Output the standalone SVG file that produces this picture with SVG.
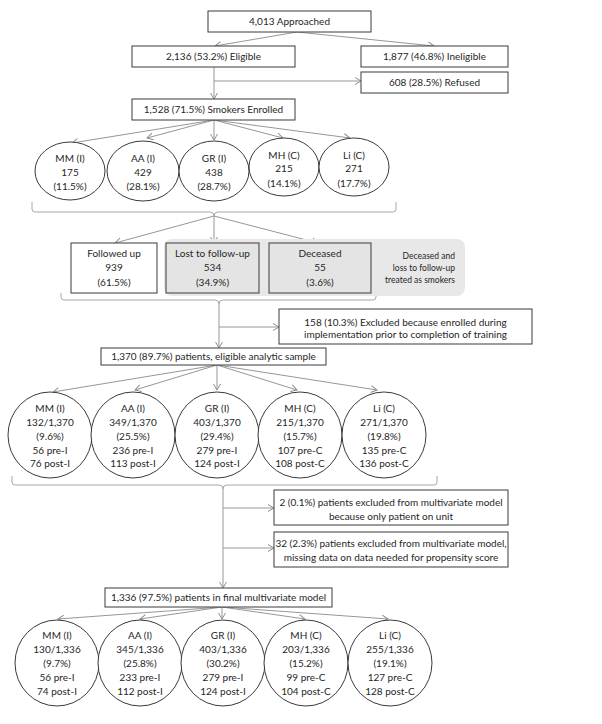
<svg xmlns="http://www.w3.org/2000/svg" width="602" height="724" viewBox="0 0 602 724">
<defs>
<marker id="ah" viewBox="-8 -5 9 10" refX="0" refY="0" markerWidth="9" markerHeight="10" markerUnits="userSpaceOnUse" orient="auto">
<path d="M-6,-3.5 L0,0 L-6,3.5" fill="none" stroke="#8f8f8f" stroke-width="1"/>
</marker>
<style>
text{font-family:Lato,"Liberation Sans",sans-serif;font-size:10px;fill:#262626;text-anchor:middle}
.box{fill:#fff;stroke:#3a3a3a;stroke-width:1}
.gbox{fill:#e4e4e4;stroke:#3a3a3a;stroke-width:1}
.ell{fill:#fff;stroke:#3a3a3a;stroke-width:1}
.arr{stroke:#979797;stroke-width:1;fill:none;marker-end:url(#ah)}
.ln{stroke:#979797;stroke-width:1;fill:none}
.brace{stroke:#a8a8a8;stroke-width:1;fill:none}
.note{font-size:8.5px;text-anchor:end}
</style>
</defs>
<rect width="602" height="724" fill="#fff"/>

<g id="connectors">
<line class="arr" x1="297" y1="32" x2="215" y2="46"/>
<line class="arr" x1="297" y1="32" x2="434" y2="46"/>
<line class="arr" x1="214" y1="67" x2="214" y2="99"/>
<line class="arr" x1="214" y1="81" x2="361" y2="81"/>
<line class="arr" x1="214" y1="120" x2="72" y2="143"/>
<line class="arr" x1="214" y1="120" x2="147" y2="138"/>
<line class="arr" x1="214" y1="120" x2="214" y2="140"/>
<line class="arr" x1="214" y1="120" x2="283" y2="138"/>
<line class="arr" x1="214" y1="120" x2="350" y2="138"/>
<path class="brace" d="M32,202 V209 Q32,212 35,212 H210 Q214,212 214,216 Q214,212 218,212 H393 Q396,212 396,209 V202"/>
<line class="arr" x1="214" y1="216" x2="115" y2="243"/>
<line class="arr" x1="214" y1="216" x2="214" y2="243"/>
<line class="arr" x1="214" y1="216" x2="318" y2="243"/>
<path class="brace" d="M61,293 V297 Q61,300 64,300 H215 Q219,300 219,304 Q219,300 223,300 H373 Q376,300 376,297 V285"/>
<line class="arr" x1="219" y1="304" x2="219" y2="348"/>
<line class="arr" x1="219" y1="327" x2="279" y2="327"/>
<line class="arr" x1="217" y1="365" x2="53" y2="392"/>
<line class="arr" x1="217" y1="365" x2="135" y2="390"/>
<line class="arr" x1="217" y1="365" x2="217" y2="390"/>
<line class="arr" x1="217" y1="365" x2="297" y2="390"/>
<line class="arr" x1="217" y1="365" x2="377" y2="390"/>
<path class="brace" d="M12,476 V482 Q12,485 15,485 H219 Q223,485 223,489 Q223,485 227,485 H434 Q437,485 437,482 V476"/>
<line class="arr" x1="223" y1="489" x2="223" y2="588"/>
<line class="arr" x1="223" y1="508" x2="274" y2="508"/>
<line class="arr" x1="223" y1="548" x2="274" y2="548"/>
<line class="arr" x1="222" y1="607" x2="58" y2="619"/>
<line class="arr" x1="222" y1="607" x2="140" y2="619"/>
<line class="arr" x1="222" y1="607" x2="222" y2="619"/>
<line class="arr" x1="222" y1="607" x2="305" y2="619"/>
<line class="arr" x1="222" y1="607" x2="388" y2="619"/>
</g>

<g id="approached"><rect class="box" x="208" y="11" width="163" height="21"/><text x="289.5" y="25">4,013 Approached</text></g>
<g id="eligible"><rect class="box" x="132" y="46" width="163" height="21"/><text x="213.5" y="60">2,136 (53.2%)  Eligible</text></g>
<g id="ineligible"><rect class="box" x="361" y="46" width="147" height="21"/><text x="434.5" y="60">1,877 (46.8%) Ineligible</text></g>
<g id="refused"><rect class="box" x="361" y="72" width="147" height="21"/><text x="434.5" y="86">608 (28.5%) Refused</text></g>
<g id="enrolled"><rect class="box" x="132" y="99" width="163" height="21"/><text x="213.5" y="113">1,528 (71.5%)  Smokers  Enrolled</text></g>

<g id="r1-mm"><ellipse class="ell" cx="70" cy="171" rx="35" ry="29"/><text x="70" y="161.5">MM (I)</text><text x="70" y="175.5">175</text><text x="70" y="190">(11.5%)</text></g>
<g id="r1-aa"><ellipse class="ell" cx="143" cy="171" rx="36" ry="30"/><text x="143" y="161.5">AA (I)</text><text x="143" y="175.5">429</text><text x="143" y="190">(28.1%)</text></g>
<g id="r1-gr"><ellipse class="ell" cx="214" cy="171" rx="35" ry="30"/><text x="214" y="161.5">GR (I)</text><text x="214" y="175.5">438</text><text x="214" y="190">(28.7%)</text></g>
<g id="r1-mh"><ellipse class="ell" cx="284" cy="167" rx="35" ry="29"/><text x="284" y="158.5">MH (C)</text><text x="284" y="172">215</text><text x="284" y="186.5">(14.1%)</text></g>
<g id="r1-li"><ellipse class="ell" cx="354" cy="167" rx="35" ry="29"/><text x="354" y="158.5">Li (C)</text><text x="354" y="172">271</text><text x="354" y="186.5">(17.7%)</text></g>

<g id="note"><rect x="164" y="239" width="301" height="57" rx="8" fill="#e8e8e8"/><text class="note" x="455" y="259">Deceased and</text><text class="note" x="455" y="271">loss to follow-up</text><text class="note" x="455" y="283">treated as smokers</text></g>
<g id="followed"><rect class="box" x="71" y="243" width="86" height="50"/><text x="114" y="256.5">Followed up</text><text x="114" y="271">939</text><text x="114" y="285.5">(61.5%)</text></g>
<g id="lost"><rect class="gbox" x="166" y="243" width="93" height="50"/><text x="212.5" y="256.5">Lost to follow-up</text><text x="212.5" y="271">534</text><text x="212.5" y="285.5">(34.9%)</text></g>
<g id="deceased"><rect class="gbox" x="269" y="243" width="102" height="50"/><text x="320" y="256.5">Deceased</text><text x="320" y="271">55</text><text x="320" y="285.5">(3.6%)</text></g>

<g id="excluded1"><rect class="box" x="279" y="309" width="253" height="35"/><text x="405.5" y="325.5">158 (10.3%) Excluded because enrolled during</text><text x="405.5" y="337.5">implementation  prior to completion  of training</text></g>
<g id="analytic"><rect class="box" x="101" y="348" width="225" height="17"/><text x="213.5" y="360">1,370 (89.7%)  patients, eligible analytic sample</text></g>

<g id="r2-mm"><ellipse class="ell" cx="50" cy="435" rx="42" ry="43"/><text x="50" y="411.5">MM (I)</text><text x="50" y="425.5">132/1,370</text><text x="50" y="439.5">(9.6%)</text><text x="50" y="453.5">56 pre-I</text><text x="50" y="467">76 post-I</text></g>
<g id="r2-aa"><ellipse class="ell" cx="133" cy="435" rx="42" ry="43"/><text x="133" y="411.5">AA (I)</text><text x="133" y="425.5">349/1,370</text><text x="133" y="439.5">(25.5%)</text><text x="133" y="453.5">236 pre-I</text><text x="133" y="467">113 post-I</text></g>
<g id="r2-gr"><ellipse class="ell" cx="217" cy="435" rx="42" ry="43"/><text x="217" y="411.5">GR (I)</text><text x="217" y="425.5">403/1,370</text><text x="217" y="439.5">(29.4%)</text><text x="217" y="453.5">279 pre-I</text><text x="217" y="467">124 post-I</text></g>
<g id="r2-mh"><ellipse class="ell" cx="300" cy="435" rx="42" ry="43"/><text x="300" y="411.5">MH (C)</text><text x="300" y="425.5">215/1,370</text><text x="300" y="439.5">(15.7%)</text><text x="300" y="453.5">107 pre-C</text><text x="300" y="467">108 post-C</text></g>
<g id="r2-li"><ellipse class="ell" cx="384" cy="435" rx="42" ry="43"/><text x="384" y="411.5">Li (C)</text><text x="384" y="425.5">271/1,370</text><text x="384" y="439.5">(19.8%)</text><text x="384" y="453.5">135 pre-C</text><text x="384" y="467">136 post-C</text></g>

<g id="excluded2"><rect class="box" x="274" y="490" width="234" height="35"/><text x="391" y="505.5">2 (0.1%) patients excluded from multivariate model</text><text x="391" y="520">because only patient on unit</text></g>
<g id="excluded3"><rect class="box" x="274" y="532" width="234" height="35"/><text x="391" y="546.5">32 (2.3%) patients excluded from multivariate model,</text><text x="391" y="560.5">missing data on data needed for propensity score</text></g>
<g id="final"><rect class="box" x="105" y="588" width="227" height="19"/><text x="218.5" y="601">1,336 (97.5%) patients in final multivariate model</text></g>

<g id="r3-mm"><ellipse class="ell" cx="57" cy="663" rx="42" ry="43"/><text x="57" y="638.5">MM (I)</text><text x="57" y="652.5">130/1,336</text><text x="57" y="666.5">(9.7%)</text><text x="57" y="681">56 pre-I</text><text x="57" y="695">74 post-I</text></g>
<g id="r3-aa"><ellipse class="ell" cx="140" cy="663" rx="42" ry="43"/><text x="140" y="638.5">AA (I)</text><text x="140" y="652.5">345/1,336</text><text x="140" y="666.5">(25.8%)</text><text x="140" y="681">233 pre-I</text><text x="140" y="695">112 post-I</text></g>
<g id="r3-gr"><ellipse class="ell" cx="223" cy="663" rx="42" ry="43"/><text x="223" y="638.5">GR (I)</text><text x="223" y="652.5">403/1,336</text><text x="223" y="666.5">(30.2%)</text><text x="223" y="681">279 pre-I</text><text x="223" y="695">124 post-I</text></g>
<g id="r3-mh"><ellipse class="ell" cx="306" cy="663" rx="42" ry="43"/><text x="306" y="638.5">MH (C)</text><text x="306" y="652.5">203/1,336</text><text x="306" y="666.5">(15.2%)</text><text x="306" y="681">99 pre-C</text><text x="306" y="695">104 post-C</text></g>
<g id="r3-li"><ellipse class="ell" cx="390" cy="663" rx="42" ry="43"/><text x="390" y="638.5">Li (C)</text><text x="390" y="652.5">255/1,336</text><text x="390" y="666.5">(19.1%)</text><text x="390" y="681">127 pre-C</text><text x="390" y="695">128 post-C</text></g>
</svg>
